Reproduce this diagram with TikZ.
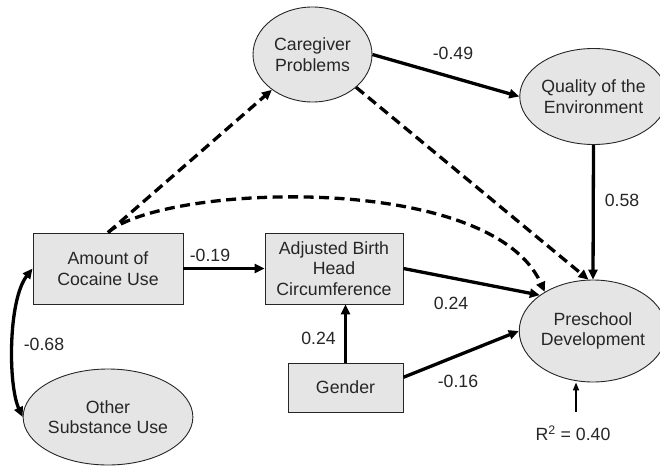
\documentclass[tikz,border=0pt]{standalone}
\usepackage{fontspec}
\setmainfont{Liberation Sans}
\usetikzlibrary{shapes.geometric,arrows.meta}
\begin{document}
\begin{tikzpicture}[x=1pt,y=-1pt,
  every node/.style={font=\fontsize{17.7}{20.5}\selectfont,text=black!85},
  oval/.style={draw=black!85,ellipse,fill=black!10,line width=0.9pt,align=center,inner sep=0pt},
  boxn/.style={draw=black!85,rectangle,fill=black!10,line width=0.9pt,align=center,inner sep=0pt},
  tip/.style={-{Triangle[length=10pt,width=9pt]}},
  thick arrow/.style={line width=3.3pt,tip},
  dash arrow/.style={line width=3.3pt,dash pattern=on 10pt off 5.5pt,tip},
  lab/.style={}]
\useasboundingbox (0,0) rectangle (660,465);
\node[oval,minimum width=119pt,minimum height=95pt] (care) at (312.5,54.5) {Caregiver\\Problems};
\node[oval,minimum width=134pt,minimum height=96pt] (qual) at (593.5,96.5) {Quality of the\\Environment};
\node[boxn,minimum width=150pt,minimum height=71pt] (coc) at (108,268.5) {Amount of\\Cocaine Use};
\node[boxn,minimum width=138pt,minimum height=71pt] (birth) at (334,268.5) {Adjusted Birth\\Head\\Circumference};
\node[boxn,minimum width=115pt,minimum height=49pt] (gen) at (345.5,387.5) {Gender};
\node[oval,minimum width=142pt,minimum height=102pt] (pre) at (593,331) {Preschool\\Development};
\node[oval,minimum width=150pt,minimum height=96pt] (oth) at (108,417) {Other\\Substance Use};
\node[lab] (r2) at (573,433) {R\textsuperscript{2} = 0.40};
\coordinate (r2top) at (576,412);
% edges
\draw[thick arrow] (care.east) -- (qual.west);
\draw[thick arrow] (qual.south) -- (pre.north);
\draw[thick arrow] (coc.east) -- (birth.west);
\draw[thick arrow] (birth.east) -- (pre.146);
\draw[line width=3pt,tip] (gen.north) -- (birth.south -| gen.north);
\draw[thick arrow] (gen.10) -- (pre.west);
\draw[line width=1.6pt,-{Triangle[length=8pt,width=6pt]}] (r2top) -- (r2top |- pre.south);
\draw[dash arrow] (coc.north) -- (care.221);
\draw[dash arrow] (care.-37) -- (pre.95);
\draw[dash arrow] (coc.north) .. controls (160,185) and (490,170) .. (pre.141);
\draw[line width=3.3pt,{Triangle[length=10pt,width=9pt]}-{Triangle[length=10pt,width=9pt]}] (coc.west) .. controls (8,300) and (8,385) .. (oth.west);
% labels
\node[lab] at (453,53) {-0.49};
\node[lab] at (622,200) {0.58};
\node[lab] at (210,255) {-0.19};
\node[lab] at (451,303) {0.24};
\node[lab] at (318.5,338) {0.24};
\node[lab] at (458,381) {-0.16};
\node[lab] at (44,344) {-0.68};
\end{tikzpicture}
\end{document}
